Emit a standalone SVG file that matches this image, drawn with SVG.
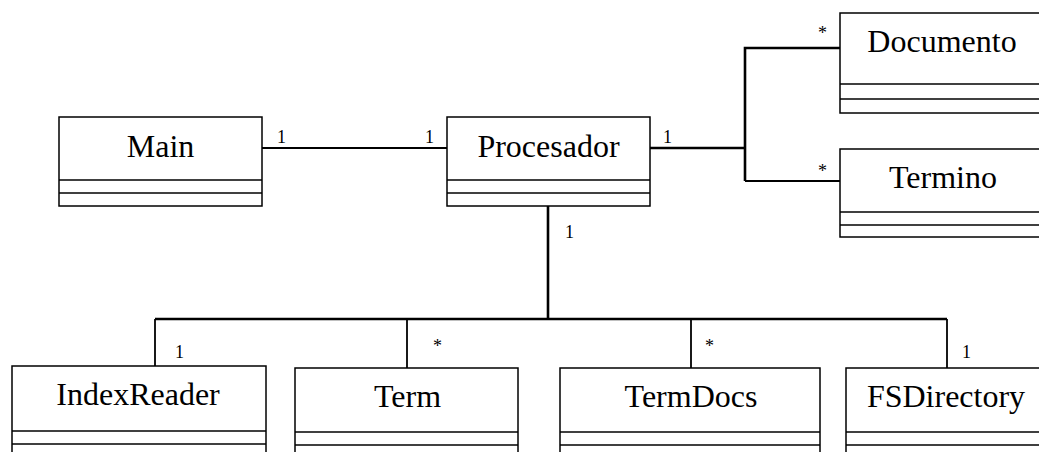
<svg xmlns="http://www.w3.org/2000/svg" width="1039" height="452" viewBox="0 0 1039 452">
  <style>
    .box { fill: #ffffff; stroke: #000000; stroke-width: 1.5; }
    .div { stroke: #000000; stroke-width: 1.5; }
    .name { font-family: "Liberation Serif", "Times New Roman", serif; font-size: 32px; fill: #000000; text-anchor: middle; }
    .mult { font-family: "Liberation Serif", "Times New Roman", serif; font-size: 18px; fill: #000000; }
    .thick { fill: none; stroke: #000000; stroke-width: 2.6; }
    .thin { fill: none; stroke: #000000; stroke-width: 1.8; }
  </style>
  <rect width="1039" height="452" fill="#ffffff"/>

  <!-- associations -->
  <g id="connectors">
    <line class="thin" x1="262" y1="148" x2="447" y2="148"/>
    <polyline class="thick" points="650,148 745,148"/>
    <polyline class="thick" points="840,48 745,48 745,181"/>
    <polyline class="thin" points="745,181 840,181"/>
    <line class="thick" x1="548" y1="206" x2="548" y2="319"/>
    <line class="thick" x1="155" y1="319" x2="947" y2="319"/>
    <line class="thin" x1="155" y1="319" x2="155" y2="366"/>
    <line class="thin" x1="407" y1="319" x2="407" y2="368"/>
    <line class="thin" x1="691" y1="319" x2="691" y2="368"/>
    <line class="thin" x1="947" y1="319" x2="947" y2="368"/>
    <text class="mult" x="277" y="143">1</text>
    <text class="mult" x="425" y="143">1</text>
    <text class="mult" x="663" y="143">1</text>
    <text class="mult" x="818" y="39">*</text>
    <text class="mult" x="818" y="177">*</text>
    <text class="mult" x="565" y="238">1</text>
    <text class="mult" x="175" y="358">1</text>
    <text class="mult" x="433" y="352">*</text>
    <text class="mult" x="705" y="352">*</text>
    <text class="mult" x="962" y="358">1</text>
  </g>

  <g id="main">
    <rect class="box" x="59" y="117" width="203" height="89"/>
    <line class="div" x1="59" y1="180" x2="262" y2="180"/>
    <line class="div" x1="59" y1="193" x2="262" y2="193"/>
    <text class="name" x="160.5" y="157">Main</text>
  </g>

  <g id="procesador">
    <rect class="box" x="447" y="117" width="203" height="89"/>
    <line class="div" x1="447" y1="180" x2="650" y2="180"/>
    <line class="div" x1="447" y1="193" x2="650" y2="193"/>
    <text class="name" x="548.5" y="157">Procesador</text>
  </g>

  <g id="documento">
    <rect class="box" x="840" y="13" width="210" height="100"/>
    <line class="div" x1="840" y1="84" x2="1050" y2="84"/>
    <line class="div" x1="840" y1="99" x2="1050" y2="99"/>
    <text class="name" x="942" y="52">Documento</text>
  </g>

  <g id="termino">
    <rect class="box" x="840" y="149" width="210" height="88"/>
    <line class="div" x1="840" y1="212" x2="1050" y2="212"/>
    <line class="div" x1="840" y1="225" x2="1050" y2="225"/>
    <text class="name" x="943" y="188">Termino</text>
  </g>

  <g id="indexreader">
    <rect class="box" x="12" y="366" width="254" height="100"/>
    <line class="div" x1="12" y1="431" x2="266" y2="431"/>
    <line class="div" x1="12" y1="444" x2="266" y2="444"/>
    <text class="name" x="138" y="405">IndexReader</text>
  </g>

  <g id="term">
    <rect class="box" x="295" y="368" width="223" height="100"/>
    <line class="div" x1="295" y1="432" x2="518" y2="432"/>
    <line class="div" x1="295" y1="445" x2="518" y2="445"/>
    <text class="name" x="407.5" y="407">Term</text>
  </g>

  <g id="termdocs">
    <rect class="box" x="560" y="368" width="260" height="100"/>
    <line class="div" x1="560" y1="432" x2="820" y2="432"/>
    <line class="div" x1="560" y1="445" x2="820" y2="445"/>
    <text class="name" x="691" y="407">TermDocs</text>
  </g>

  <g id="fsdirectory">
    <rect class="box" x="846" y="368" width="210" height="100"/>
    <line class="div" x1="846" y1="432" x2="1056" y2="432"/>
    <line class="div" x1="846" y1="445" x2="1056" y2="445"/>
    <text class="name" x="946" y="407">FSDirectory</text>
  </g>
</svg>
